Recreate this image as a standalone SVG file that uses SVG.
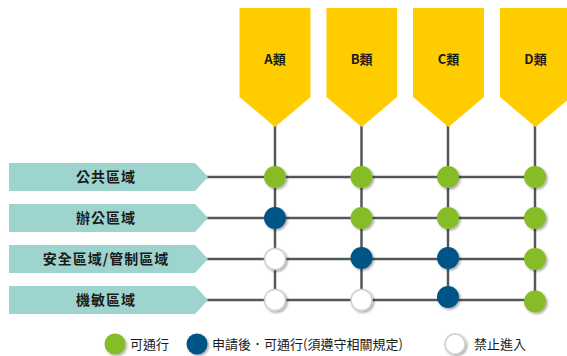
<svg xmlns="http://www.w3.org/2000/svg" width="567" height="356" viewBox="0 0 567 356">
<defs>
<style>
.banner{fill:#FFCC00}
.row{fill:#9DD4CE}
.ln{stroke:#54585A;stroke-width:2.5;fill:none}
.t{font-family:"Noto Sans CJK TC","Noto Sans CJK SC",sans-serif;fill:#1a1a1a}
.bt{font-size:13px;font-weight:bold;text-anchor:middle}
.rt{font-size:14px;font-weight:bold;text-anchor:middle;letter-spacing:1px}
.lt{font-size:13px}
.g{fill:#86BC25}
.b{fill:#005587}
.w{fill:#ffffff;stroke:#d0d0d0;stroke-width:1.5}
</style>
<filter id="sh" x="-50%" y="-50%" width="200%" height="200%">
<feDropShadow dx="1.5" dy="1.5" stdDeviation="1" flood-color="#000" flood-opacity="0.35"/>
</filter>
</defs>
<g id="connectors">
<line class="ln" x1="275" y1="125" x2="275" y2="300"/>
<line class="ln" x1="361.5" y1="125" x2="361.5" y2="300"/>
<line class="ln" x1="448" y1="125" x2="448" y2="300"/>
<line class="ln" x1="535" y1="125" x2="535" y2="300"/>
<line class="ln" x1="205" y1="177" x2="540" y2="177"/>
<line class="ln" x1="205" y1="218" x2="540" y2="218"/>
<line class="ln" x1="205" y1="259" x2="540" y2="259"/>
<line class="ln" x1="205" y1="300" x2="540" y2="300"/>
</g>
<g id="col-A"><path class="banner" d="M239.5 8H310.5V97L275 127L239.5 97Z"/><text class="t bt" x="275" y="64">A類</text></g>
<g id="col-B"><path class="banner" d="M326.5 8H397V97L361.7 127L326.5 97Z"/><text class="t bt" x="361.7" y="64">B類</text></g>
<g id="col-C"><path class="banner" d="M413 8H484V97L448.5 127L413 97Z"/><text class="t bt" x="448.5" y="64">C類</text></g>
<g id="col-D"><path class="banner" d="M500 8H571V97L535.5 127L500 97Z"/><text class="t bt" x="535.5" y="64">D類</text></g>
<g id="row-1"><path class="row" d="M9 163H195L208 177L195 191H9Z"/><text class="t rt" x="106" y="182">公共區域</text></g>
<g id="row-2"><path class="row" d="M9 204H195L208 218L195 232H9Z"/><text class="t rt" x="106" y="223">辦公區域</text></g>
<g id="row-3"><path class="row" d="M9 245H195L208 259L195 273H9Z"/><text class="t rt" x="106" y="264">安全區域/管制區域</text></g>
<g id="row-4"><path class="row" d="M9 286H195L208 300L195 314H9Z"/><text class="t rt" x="106" y="305">機敏區域</text></g>
<g id="dots" filter="url(#sh)">
<circle class="g" cx="275" cy="177" r="11"/>
<circle class="g" cx="361.5" cy="177" r="11"/>
<circle class="g" cx="448" cy="177" r="11"/>
<circle class="g" cx="535" cy="177" r="11"/>
<circle class="b" cx="275" cy="218" r="11"/>
<circle class="g" cx="361.5" cy="218" r="11"/>
<circle class="g" cx="448" cy="218" r="11"/>
<circle class="g" cx="535" cy="218" r="11"/>
<circle class="w" cx="275" cy="259" r="10.5"/>
<circle class="b" cx="361.5" cy="258" r="11"/>
<circle class="b" cx="448" cy="258" r="11"/>
<circle class="g" cx="535" cy="259" r="11"/>
<circle class="w" cx="275" cy="300" r="10.5"/>
<circle class="w" cx="361.5" cy="300" r="10.5"/>
<circle class="b" cx="448" cy="297" r="11"/>
<circle class="g" cx="535" cy="301.5" r="11"/>
</g>
<g id="legend">
<g filter="url(#sh)">
<circle class="g" cx="115" cy="344" r="10.5"/>
<circle class="b" cx="197" cy="344" r="10.5"/>
<circle class="w" cx="455" cy="344" r="10"/>
</g>
<text class="t lt" x="130" y="348.5">可通行</text>
<text class="t lt" x="212" y="348.5">申請後．可通行(須遵守相關規定)</text>
<text class="t lt" x="474" y="348.5">禁止進入</text>
</g>
</svg>
